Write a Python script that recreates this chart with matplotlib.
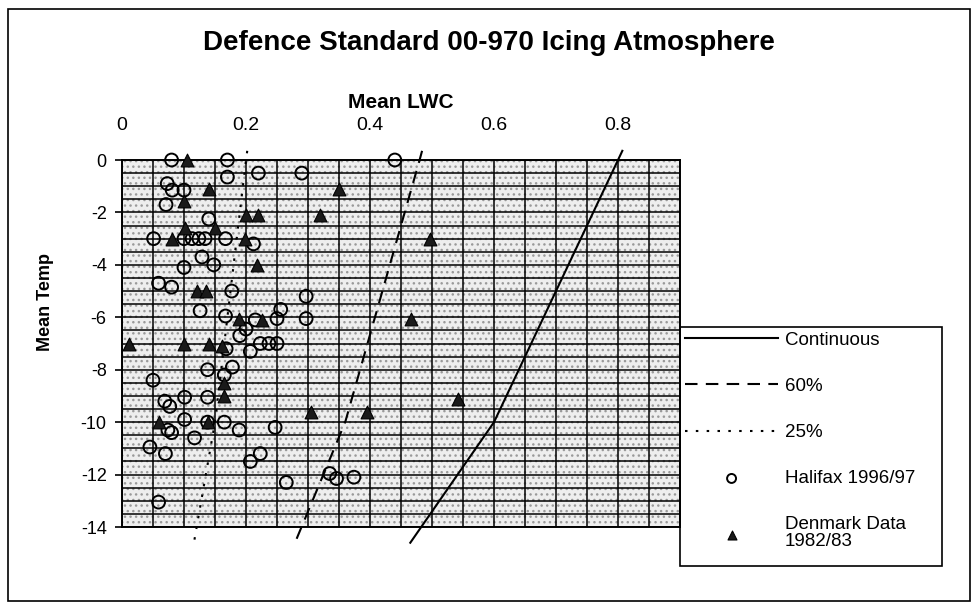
import numpy as np
import matplotlib
matplotlib.use("Agg")
import matplotlib.pyplot as plt
from matplotlib.patches import Rectangle

plt.rcParams['font.family'] = ['Liberation Sans', 'DejaVu Sans']

# ---------------- data ----------------
title = "Defence Standard 00-970 Icing Atmosphere"
x_label = "Mean LWC"
y_label = "Mean Temp"

x_tick_values = [0, 0.2, 0.4, 0.6, 0.8]
x_tick_labels = ["0", "0.2", "0.4", "0.6", "0.8"]
y_tick_values = [0, -2, -4, -6, -8, -10, -12, -14]
y_tick_labels = ["0", "-2", "-4", "-6", "-8", "-10", "-12", "-14"]

# design curves (temperature vs LWC)
curve_temp = [0.35, 0, -10, -14.6]
continuous_lwc = [0.807, 0.80, 0.60, 0.465]
p60_lwc = [0.484, 0.48, 0.36, 0.279]
p25_lwc = [0.202, 0.20, 0.15, 0.116]

# Halifax 1996/97
halifax_lwc = [0.08, 0.17, 0.22, 0.17, 0.073, 0.081, 0.10, 0.071, 0.14, 0.051,
               0.10, 0.113, 0.124, 0.134, 0.167, 0.212, 0.129, 0.10, 0.148, 0.059,
               0.08, 0.177, 0.126, 0.167, 0.215, 0.25, 0.44, 0.29, 0.297, 0.256,
               0.297,
               0.168, 0.19, 0.20, 0.207, 0.223, 0.237, 0.25, 0.178, 0.138, 0.05,
               0.165, 0.101, 0.138, 0.069, 0.077, 0.101, 0.074, 0.08, 0.138, 0.165,
               0.189, 0.247, 0.117, 0.045, 0.07, 0.223, 0.207, 0.265, 0.059, 0.335,
               0.346, 0.374]
halifax_temp = [0, 0, -0.5, -0.65, -0.9, -1.15, -1.15, -1.7, -2.25, -3.0,
                -3.0, -3.0, -3.0, -3.0, -3.0, -3.2, -3.7, -4.1, -4.0, -4.7,
                -4.85, -5.0, -5.75, -5.95, -6.1, -6.05, 0, -0.5, -5.2, -5.7,
                -6.05,
                -7.2, -6.7, -6.45, -7.3, -7.0, -7.0, -7.0, -7.9, -8.0, -8.4,
                -8.2, -9.05, -9.05, -9.2, -9.4, -9.9, -10.3, -10.4, -10.0, -10.0,
                -10.3, -10.2, -10.6, -10.95, -11.2, -11.2, -11.5, -12.3, -13.05, -11.96,
                -12.15, -12.1]

# Denmark Data 1982/83
denmark_lwc = [0.105, 0.14, 0.10, 0.20, 0.22, 0.102, 0.15, 0.081, 0.199, 0.218,
               0.121, 0.135, 0.188, 0.226, 0.35, 0.319, 0.496, 0.466,
               0.011, 0.10, 0.141, 0.162, 0.165, 0.165, 0.059, 0.138, 0.542, 0.305,
               0.395]
denmark_temp = [0, -1.1, -1.55, -2.1, -2.1, -2.6, -2.6, -3.0, -3.0, -4.0,
                -5.0, -5.0, -6.05, -6.1, -1.1, -2.1, -3.0, -6.05,
                -7.0, -7.0, -7.0, -7.1, -8.5, -9.0, -10.0, -10.0, -9.1, -9.6,
                -9.6]

# ---------------- figure ----------------
W, H = 978, 610
fig = plt.figure(figsize=(W / 100, H / 100), dpi=100)
fig.patch.set_facecolor('white')

L, R, T, B = 122, 680, 160, 527
ax = fig.add_axes([L / W, 1 - B / H, (R - L) / W, (B - T) / H])
ax.set_facecolor('#eeeeee')
ax.patch.set_hatch('...')
ax.patch.set_edgecolor('#9a9a9a')

ax.set_xlim(0, 0.9)
ax.set_ylim(-14, 0)

ax.set_xticks(x_tick_values)
ax.set_xticklabels(x_tick_labels)
ax.set_xticks(np.arange(0, 0.901, 0.05), minor=True)
ax.set_yticks(y_tick_values)
ax.set_yticklabels(y_tick_labels)
ax.set_yticks(np.arange(-14, 0.01, 0.5), minor=True)

ax.xaxis.tick_top()
ax.tick_params(axis='x', which='both', length=0, pad=18.5, labelsize=14)
ax.tick_params(axis='y', which='major', length=5, width=1.2, direction='out',
               pad=6, labelsize=13)
ax.tick_params(axis='y', which='minor', length=0)
ax.grid(which='both', color='black', linewidth=1.1)
ax.set_axisbelow(True)
for s in ax.spines.values():
    s.set_color('black')
    s.set_linewidth(1.4)

l1, = ax.plot(continuous_lwc, curve_temp, color='black', lw=1.5,
              clip_on=False, label='Continuous', zorder=4)
l2, = ax.plot(p60_lwc, curve_temp, color='black', lw=1.5, ls=(0, (6, 4)),
              clip_on=False, label='60%', zorder=4)
l3, = ax.plot(p25_lwc, curve_temp, color='black', lw=1.5, ls=(0, (1.2, 4)),
              clip_on=False, label='25%', zorder=4)

s1 = ax.scatter(halifax_lwc, halifax_temp, s=85, facecolors='none',
                edgecolors='black', linewidths=1.4, label='Halifax 1996/97',
                zorder=5, clip_on=False)
s2 = ax.scatter(denmark_lwc, denmark_temp, s=85, marker='^', color='#1a1a1a',
                edgecolors='black', linewidths=0.8,
                label='Denmark Data\n1982/83', zorder=6, clip_on=False)

# legend box (frame drawn separately so it can sit flush with the plot edge)
LEG_L, LEG_T, LEG_R, LEG_B = 680, 327, 942, 566
fig.patches.append(Rectangle((LEG_L / W, 1 - LEG_B / H),
                             (LEG_R - LEG_L) / W, (LEG_B - LEG_T) / H,
                             transform=fig.transFigure, fill=False,
                             edgecolor='black', linewidth=1.2))
leg = ax.legend(handles=[l1, l2, l3, s1, s2],
                loc='upper left', bbox_to_anchor=(LEG_L / W, 1 - LEG_T / H),
                bbox_transform=fig.transFigure, borderaxespad=0,
                frameon=False, fontsize=13.5, handlelength=5.0,
                handletextpad=0.35, labelspacing=1.55, borderpad=0.25,
                markerscale=0.7)
leg.get_texts()[4].set_linespacing(1.0)

fig.text(0.5, 1 - 43 / H, title, ha='center', va='center',
         fontsize=20, fontweight='bold')
fig.text((L + R) / 2 / W, 1 - 103 / H, x_label, ha='center', va='center',
         fontsize=15, fontweight='bold')
fig.text(46 / W, 1 - 302 / H, y_label, ha='center', va='center',
         rotation=90, fontsize=13, fontweight='bold')

fig.patches.append(Rectangle((8 / W, 9 / H), (970 - 8) / W, (601 - 9) / H,
                             transform=fig.transFigure, fill=False,
                             edgecolor='black', linewidth=1.2))

fig.savefig('out.png', dpi=100)
